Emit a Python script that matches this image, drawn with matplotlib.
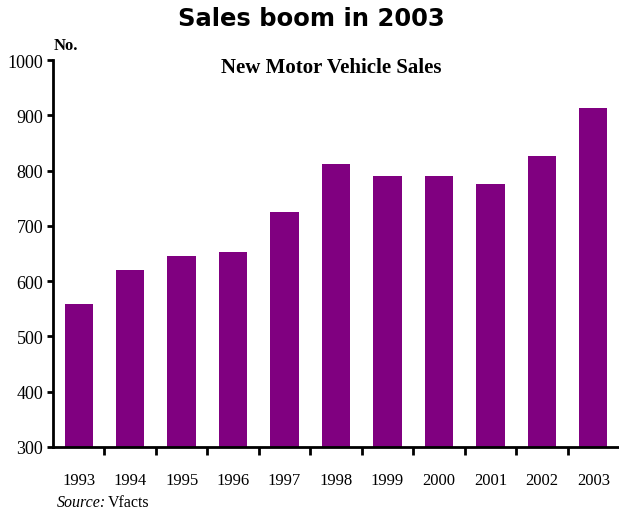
import numpy as np
import matplotlib.pyplot as plt

# chart data
years = ['1993', '1994', '1995', '1996', '1997', '1998', '1999', '2000', '2001', '2002', '2003']
sales = [558, 620, 645, 652, 725, 812, 790, 790, 776, 826, 913]

bar_color = '#800080'
serif = 'Liberation Serif'

fig = plt.figure(figsize=(6.19, 5.10), dpi=100)
ax = fig.add_axes([53 / 619, 1 - 448 / 510, (619 - 53) / 619, (448 - 61) / 510])

x = np.arange(len(years))
ax.bar(x, sales, width=0.55, color=bar_color)
ax.set_xlim(-0.5, len(years) - 0.5)
ax.set_ylim(300, 1000)
ax.set_yticks(range(300, 1001, 100))

# tick marks between categories, labels centred under bars
ax.set_xticks(x[:-1] + 0.5)
ax.set_xticklabels([])
ax.set_xticks(x, minor=True)
ax.set_xticklabels(years, minor=True, fontfamily=serif, fontsize=12)
ax.tick_params(axis='x', which='minor', length=0, pad=18)
ax.tick_params(axis='x', which='major', length=6, width=2, direction='out')
ax.tick_params(axis='y', length=4, width=2, direction='out', pad=3)
for lbl in ax.get_yticklabels():
    lbl.set_fontfamily(serif)
    lbl.set_fontsize(13)

for s in ['top', 'right']:
    ax.spines[s].set_visible(False)
ax.spines['left'].set_linewidth(2)
ax.spines['bottom'].set_linewidth(2)

fig.text(331 / 619, 1 - 68 / 510, 'New Motor Vehicle Sales', ha='center', va='center',
         fontfamily=serif, fontweight='bold', fontsize=15)
fig.text(54 / 619, 1 - 46 / 510, 'No.', ha='left', va='center',
         fontfamily=serif, fontweight='bold', fontsize=12)
fig.text(311 / 619, 1 - 19 / 510, 'Sales boom in 2003', ha='center', va='center',
         fontfamily='DejaVu Sans', fontweight='bold', fontsize=17.5)
fig.text(57 / 619, 1 - 503 / 510, 'Source:', ha='left', va='center',
         fontfamily=serif, fontstyle='italic', fontsize=11.5)
fig.text(108 / 619, 1 - 503 / 510, 'Vfacts', ha='left', va='center',
         fontfamily=serif, fontsize=11.5)

fig.savefig('out.png', dpi=100)
